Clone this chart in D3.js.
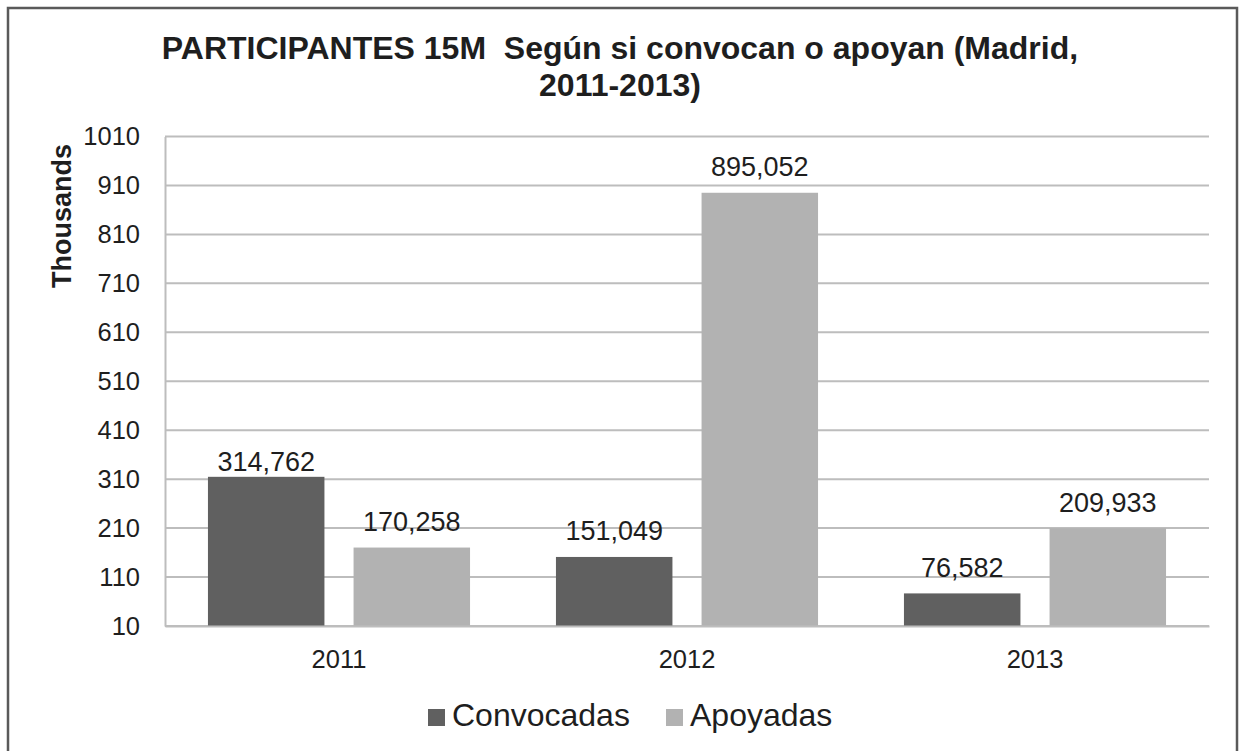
<!DOCTYPE html>
<html>
<head>
<meta charset="utf-8">
<script src="https://cdn.jsdelivr.net/npm/d3@7"></script>
<style>
  html, body { margin: 0; padding: 0; background: #fff; }
  svg { display: block; }
  text { font-family: "Liberation Sans", Arial, sans-serif; fill: #1e1e1e; }
</style>
</head>
<body>
<svg id="chart" width="1240" height="751"></svg>
<script>
// chart data (values in thousands)
const years = ["2011", "2012", "2013"];
const seriesNames = ["Convocadas", "Apoyadas"];
const convocadas = [314.762, 151.049, 76.582];
const apoyadas = [170.258, 895.052, 209.933];
const yTicks = [10, 110, 210, 310, 410, 510, 610, 710, 810, 910, 1010];
const titleLines = ["PARTICIPANTES 15M  Según si convocan o apoyan (Madrid,", "2011-2013)"];

const colors = { Convocadas: "#606060", Apoyadas: "#b2b2b2" };

const svg = d3.select("#chart");
const plot = { left: 165, right: 1209, top: 136.5, bottom: 626 };

// outer frame
svg.append("rect")
  .attr("x", 8).attr("y", 8)
  .attr("width", 1229).attr("height", 780)
  .attr("fill", "none")
  .attr("stroke", "#5a5a5a")
  .attr("stroke-width", 2.5);

// title
svg.append("g").selectAll("text")
  .data(titleLines)
  .enter()
  .append("text")
  .attr("x", 620)
  .attr("y", (_, i) => 59 + i * 37)
  .attr("text-anchor", "middle")
  .attr("font-size", 32)
  .attr("font-weight", "bold")
  .attr("fill", "#000")
  .style("white-space", "pre")
  .text(d => d);

const y = d3.scaleLinear().domain([10, 1010]).range([plot.bottom, plot.top]);
const x0 = d3.scaleBand().domain(years).range([plot.left, plot.right]);
const x1 = d3.scaleBand().domain(seriesNames)
  .range([0, x0.bandwidth()])
  .paddingInner(0.2)
  .paddingOuter(0.295);

// gridlines
svg.append("g")
  .selectAll("line")
  .data(yTicks)
  .enter()
  .append("line")
  .attr("x1", plot.left)
  .attr("x2", plot.right)
  .attr("y1", d => y(d))
  .attr("y2", d => y(d))
  .attr("stroke", "#bdbdbd")
  .attr("stroke-width", 2);

// y axis
const yAxis = svg.append("g")
  .attr("transform", `translate(${plot.left},0)`)
  .call(d3.axisLeft(y).tickValues(yTicks).tickFormat(d3.format("d")).tickSize(0).tickPadding(25));
yAxis.select(".domain").attr("stroke", "#bdbdbd").attr("stroke-width", 2);
yAxis.selectAll("text")
  .attr("font-size", 25.5)
  .attr("font-family", "Liberation Sans, Arial, sans-serif")
  .attr("fill", "#1e1e1e");

svg.append("text")
  .attr("transform", "translate(71,216) rotate(-90)")
  .attr("text-anchor", "middle")
  .attr("font-size", 27)
  .attr("font-weight", "bold")
  .attr("fill", "#000")
  .text("Thousands");

// bars
const rows = years.map((yr, i) => ({ year: yr, values: [
  { key: "Convocadas", value: convocadas[i] },
  { key: "Apoyadas", value: apoyadas[i] }
]}));

const groups = svg.append("g")
  .selectAll("g")
  .data(rows)
  .enter()
  .append("g")
  .attr("transform", d => `translate(${x0(d.year)},0)`);

groups.selectAll("rect")
  .data(d => d.values)
  .enter()
  .append("rect")
  .attr("x", d => x1(d.key))
  .attr("y", d => y(d.value))
  .attr("width", x1.bandwidth())
  .attr("height", d => y(10) - y(d.value))
  .attr("fill", d => colors[d.key]);

// the first label sits closer to its bar in the original
const labelGap = (d, yr) => (yr === "2011" && d.key === "Convocadas") ? 6 : 16.5;

const fmt = d3.format(",.0f");
groups.each(function (row) {
  d3.select(this).selectAll(".lbl")
    .data(row.values)
    .enter()
    .append("text")
    .attr("class", "lbl")
    .attr("x", d => x1(d.key) + x1.bandwidth() / 2)
    .attr("y", d => y(d.value) - labelGap(d, row.year))
    .attr("text-anchor", "middle")
    .attr("font-size", 27)
    .text(d => fmt(d.value * 1000));
});

// x axis
const xAxis = svg.append("g")
  .attr("transform", `translate(0,${plot.bottom})`)
  .call(d3.axisBottom(x0).tickSize(0).tickPadding(24));
xAxis.select(".domain").attr("stroke", "#bdbdbd").attr("stroke-width", 2);
xAxis.selectAll("text")
  .attr("font-size", 25.5)
  .attr("font-family", "Liberation Sans, Arial, sans-serif")
  .attr("fill", "#1e1e1e");

// legend
const legendPos = [428, 666];
const legend = svg.append("g")
  .selectAll("g")
  .data(seriesNames)
  .enter()
  .append("g")
  .attr("transform", (_, i) => `translate(${legendPos[i]},709)`);
legend.append("rect")
  .attr("width", 17).attr("height", 17)
  .attr("fill", d => colors[d]);
legend.append("text")
  .attr("x", 24)
  .attr("y", 17)
  .attr("font-size", 32)
  .text(d => d);
</script>
</body>
</html>
